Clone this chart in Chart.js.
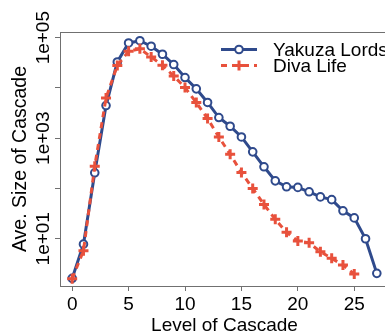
<!DOCTYPE html>
<html>
<head>
<meta charset="utf-8">
<script src="https://cdn.jsdelivr.net/npm/chart.js@4"></script>
<style>
  html, body { margin: 0; padding: 0; background: #fff; overflow: hidden; }
  #wrap { width: 397px; height: 333px; }
</style>
</head>
<body>
<div id="wrap"><canvas id="cascadeChart" width="397" height="333"></canvas></div>
<script>

// DATA #######################################################################

var levels = [0, 1, 2, 3, 4, 5, 6, 7, 8, 9, 10, 11, 12, 13,
              14, 15, 16, 17, 18, 19, 20, 21, 22, 23, 24, 25, 26, 27];

var yakuzaLords = [1.63, 7.8, 205, 4470, 32900, 78500, 87000, 67600, 46800,
                   29200, 16100, 9600, 5150, 2580, 1730, 1060, 535, 270, 142,
                   108, 105, 86, 68, 60, 36, 26, 10, 2.05];

var divaLife = [1.6, 5.8, 278, 6300, 28000, 53700, 60000, 41300, 28200, 17300,
                10200, 5130, 2460, 1060, 480, 208, 100, 48, 24.3, 13.4, 9.0,
                8.3, 5.5, 4.07, 3.0, 1.99];

var xTicks = [0, 5, 10, 15, 20, 25];
var yTicks = [10, 100, 1000, 10000, 100000];
var yTickLabels = {10: "1e+01", 1000: "1e+03", 100000: "1e+05"};

var seriesNames = ["Yakuza Lords", "Diva Life"];

var blue = "#2f4a8c";
var red = "#e8513c";
var axisGray = "#707070";
var fontFamily = "'Liberation Sans', Arial, sans-serif";

function toPoints(values) {
    var pts = [];
    for (var i = 0; i < values.length; i++) {
        pts.push({x: levels[i], y: values[i]});
    }
    return pts;
}

// PLUGINS ####################################################################

// box top line, rotated y tick labels and the legend
var extras = {
    id: "extras",
    afterDraw: function (chart) {
        var ctx = chart.ctx;
        var area = chart.chartArea;
        var yScale = chart.scales.y;

        ctx.save();
        ctx.strokeStyle = axisGray;
        ctx.lineWidth = 1;
        ctx.beginPath();
        ctx.moveTo(area.left, area.top + 0.5);
        ctx.lineTo(area.right, area.top + 0.5);
        ctx.stroke();

        // y tick labels, R style (read bottom to top)
        ctx.fillStyle = "#000";
        ctx.font = "19px " + fontFamily;
        ctx.textAlign = "center";
        ctx.textBaseline = "alphabetic";
        Object.keys(yTickLabels).forEach(function (v) {
            var py = yScale.getPixelForValue(Number(v));
            ctx.save();
            ctx.translate(48.5, py);
            ctx.rotate(-Math.PI / 2);
            ctx.fillText(yTickLabels[v], 0, 0);
            ctx.restore();
        });

        // legend
        var lx0 = 221, lx1 = 257, lmid = 239, tx = 273;
        var rows = [49.5, 65.5];

        ctx.lineWidth = 3;
        ctx.strokeStyle = blue;
        ctx.beginPath();
        ctx.moveTo(lx0, rows[0]);
        ctx.lineTo(lx1, rows[0]);
        ctx.stroke();
        ctx.lineWidth = 2;
        ctx.fillStyle = "#fff";
        ctx.beginPath();
        ctx.arc(lmid, rows[0], 3.8, 0, Math.PI * 2);
        ctx.fill();
        ctx.stroke();

        ctx.lineWidth = 3;
        ctx.strokeStyle = red;
        ctx.setLineDash([6, 5]);
        ctx.beginPath();
        ctx.moveTo(lx0, rows[1]);
        ctx.lineTo(lx1, rows[1]);
        ctx.stroke();
        ctx.setLineDash([]);
        ctx.beginPath();
        ctx.moveTo(lmid - 5, rows[1]);
        ctx.lineTo(lmid + 5, rows[1]);
        ctx.moveTo(lmid, rows[1] - 5);
        ctx.lineTo(lmid, rows[1] + 5);
        ctx.stroke();

        ctx.fillStyle = "#000";
        ctx.font = "19px " + fontFamily;
        ctx.textAlign = "left";
        ctx.textBaseline = "middle";
        ctx.fillText(seriesNames[0], tx, rows[0] + 1);
        ctx.fillText(seriesNames[1], tx, rows[1] + 1);
        ctx.restore();
    }
};

// CASCADE CHART ##############################################################

var ctx_cascade = document.getElementById("cascadeChart");

var data = {
    datasets: [
        {
            label: seriesNames[1],
            data: toPoints(divaLife),
            order: 0,
            borderColor: red,
            backgroundColor: red,
            borderWidth: 3,
            borderDash: [6, 5],
            pointStyle: "cross",
            pointRadius: 5,
            pointBorderWidth: 3,
            pointBorderColor: red,
            pointBackgroundColor: red,
            tension: 0
        },
        {
            label: seriesNames[0],
            data: toPoints(yakuzaLords),
            order: 1,
            borderColor: blue,
            backgroundColor: blue,
            borderWidth: 3,
            pointStyle: "circle",
            pointRadius: 3.8,
            pointBorderWidth: 2,
            pointBorderColor: blue,
            pointBackgroundColor: "#fff",
            tension: 0
        }
    ]
};

var cascadeChart = new Chart(ctx_cascade, {
    type: "line",
    data: data,
    plugins: [extras],
    options: {
        responsive: false,
        animation: false,
        events: [],
        layout: {padding: {top: 32, left: 0, right: 0, bottom: 0}},
        plugins: {
            legend: {display: false},
            tooltip: {enabled: false}
        },
        scales: {
            x: {
                type: "linear",
                min: -1.08,
                max: 28.08,
                afterBuildTicks: function (scale) {
                    scale.ticks = xTicks.map(function (v) { return {value: v}; });
                },
                afterFit: function (scale) { scale.height = 47; },
                grid: {
                    drawOnChartArea: false,
                    drawTicks: true,
                    tickLength: 5,
                    color: axisGray
                },
                border: {display: true, color: axisGray, width: 1},
                ticks: {
                    color: "#000",
                    padding: 2,
                    maxRotation: 0,
                    font: {family: fontFamily, size: 19}
                },
                title: {
                    display: true,
                    text: "Level of Cascade",
                    color: "#000",
                    font: {family: fontFamily, size: 19, lineHeight: 1},
                    padding: {top: 0, bottom: -2}
                }
            },
            y: {
                type: "logarithmic",
                min: Math.pow(10, 0.06),
                max: Math.pow(10, 5.113),
                afterBuildTicks: function (scale) {
                    scale.ticks = yTicks.map(function (v) { return {value: v}; });
                },
                afterFit: function (scale) { scale.width = 60; },
                grid: {
                    drawOnChartArea: false,
                    drawTicks: true,
                    tickLength: 5,
                    color: axisGray
                },
                border: {display: true, color: axisGray, width: 1},
                ticks: {
                    callback: function () { return ""; }
                },
                title: {
                    display: true,
                    text: "Ave. Size of Cascade",
                    color: "#000",
                    font: {family: fontFamily, size: 19.5, lineHeight: 1},
                    padding: {top: 11, bottom: 0}
                }
            }
        }
    }
});

</script>
</body>
</html>
